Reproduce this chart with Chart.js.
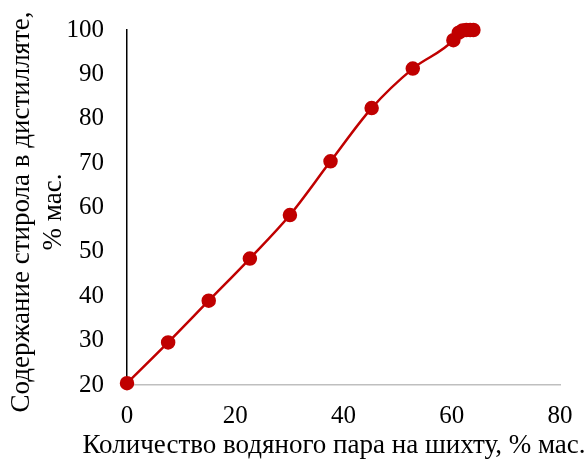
<!DOCTYPE html>
<html>
<head>
<meta charset="utf-8">
<script src="https://cdn.jsdelivr.net/npm/chart.js@4"></script>
<style>
  html, body { margin: 0; padding: 0; background: #fff; }
  #wrap { width: 587px; height: 461px; }
</style>
</head>
<body>
<div id="wrap"><canvas id="lineChart" width="587" height="461"></canvas></div>
<script>
// Данные
var steamAmount = [0, 7.6, 15.1, 22.7, 30.1, 37.6, 45.2, 52.8, 60.3, 61.3, 62.0, 62.7, 63.4, 64.0];
var styreneContent = [20.4, 29.6, 39.0, 48.5, 58.3, 70.4, 82.4, 91.3, 97.7, 99.4, 99.9, 100, 100, 100];
var xTicks = [0, 20, 40, 60, 80];
var yTicks = [20, 30, 40, 50, 60, 70, 80, 90, 100];
var xTitle = 'Количество водяного пара на шихту, % мас.';
var yTitle = ['Содержание стирола в дистилляте,', '% мас.'];

var fontFamily = '"Liberation Serif", "Times New Roman", serif';
var red = '#C00000';

var points = steamAmount.map(function (x, i) {
    return { x: x, y: styreneContent[i] };
});

// Подписи осей рисуем сами: встроенные заголовки Chart.js сжимаются по ширине оси
var axisTitles = {
    id: 'axisTitles',
    afterDraw: function (chart) {
        var c = chart.ctx;
        c.save();
        c.fillStyle = '#000';
        c.font = '27px ' + fontFamily;
        c.textAlign = 'center';
        c.textBaseline = 'middle';
        c.fillText(xTitle, 334, 446);

        c.translate(0, 212);
        c.rotate(-Math.PI / 2);
        c.fillText(yTitle[0], 0, 22);
        c.fillText(yTitle[1], 0, 54);
        c.restore();
    }
};

var ctx = document.getElementById('lineChart').getContext('2d');
var currentChart = new Chart(ctx, {
    type: 'scatter',
    data: {
        datasets: [{
            data: points,
            showLine: true,
            borderColor: red,
            backgroundColor: red,
            borderWidth: 2.5,
            pointRadius: 6,
            pointHoverRadius: 6,
            cubicInterpolationMode: 'monotone',
            clip: false
        }]
    },
    options: {
        responsive: false,
        animation: false,
        layout: { padding: { top: 30, right: 27, left: 0, bottom: 0 } },
        plugins: {
            legend: { display: false },
            tooltip: { enabled: false }
        },
        scales: {
            x: {
                type: 'linear',
                min: 0,
                max: 80,
                afterBuildTicks: function (axis) {
                    axis.ticks = xTicks.map(function (v) { return { value: v }; });
                },
                afterFit: function (axis) {
                    axis.height = 76;
                    axis.paddingLeft = 0;
                    axis.paddingRight = 0;
                },
                grid: { display: false, drawTicks: false },
                border: { color: '#BFBFBF', width: 1.5 },
                ticks: { color: '#000', font: { family: fontFamily, size: 25 }, padding: 16, maxRotation: 0 }
            },
            y: {
                type: 'linear',
                min: 20,
                max: 100,
                afterBuildTicks: function (axis) {
                    axis.ticks = yTicks.map(function (v) { return { value: v }; });
                },
                afterFit: function (axis) {
                    axis.width = 127;
                    axis.paddingTop = 0;
                    axis.paddingBottom = 0;
                },
                grid: { display: false, drawTicks: false },
                border: { color: '#000', width: 1.5 },
                ticks: { color: '#000', font: { family: fontFamily, size: 25 }, padding: 23 }
            }
        }
    },
    plugins: [axisTitles]
});
</script>
</body>
</html>
